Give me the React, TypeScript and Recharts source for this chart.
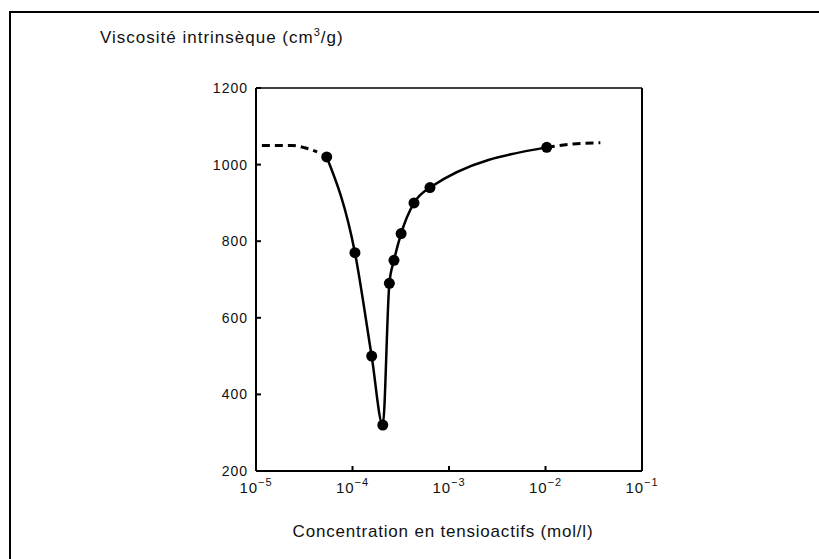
import { LineChart, Line, XAxis, YAxis } from "recharts";

// measured points (surfactant concentration in mol/l, intrinsic viscosity cm3/g)
const concentration = [5.4e-5, 1.06e-4, 1.58e-4, 2.06e-4, 2.41e-4, 2.69e-4, 3.19e-4, 4.34e-4, 6.35e-4, 1.03e-2];
const viscosity = [1020, 770, 500, 320, 690, 750, 820, 900, 940, 1045];

// dashed plateaus on each side
const leftTailConc = [1.15e-5, 2.4e-5, 3.2e-5, 4.3e-5];
const leftTailVisc = [1050, 1050, 1044, 1033];
const rightTailConc = [1.03e-2, 1.93e-2, 3.7e-2];
const rightTailVisc = [1045, 1054, 1057];

const xTicks = [1e-5, 1e-4, 1e-3, 1e-2, 1e-1];
const yTicks = [200, 400, 600, 800, 1000, 1200];

const FONT = "'Liberation Sans', Arial, sans-serif";

const measured = concentration.map((c, i) => ({ c, v: viscosity[i] }));
const leftTail = leftTailConc.map((c, i) => ({ c, v: leftTailVisc[i] }));
const rightTail = rightTailConc.map((c, i) => ({ c, v: rightTailVisc[i] }));

function PowerTick({ x, y, payload }: any) {
  const exp = Math.round(Math.log10(payload.value));
  return (
    <text x={x} y={y + 14} textAnchor="middle" fontSize={15} fill="#111" fontFamily={FONT} letterSpacing={1}>
      <tspan>10</tspan>
      <tspan dy={-7} fontSize={11}>{"\u2212" + Math.abs(exp)}</tspan>
    </text>
  );
}

export default function App() {
  return (
    <div style={{ position: "absolute", left: 0, top: 0, width: 819, height: 559, background: "#fff", overflow: "hidden" }}>
      <div
        style={{
          position: "absolute",
          left: 9,
          top: 11,
          width: 830,
          height: 560,
          borderTop: "2px solid #000",
          borderLeft: "2px solid #000",
        }}
      />
      <div
        style={{
          position: "absolute",
          left: 100,
          top: 29,
          fontFamily: FONT,
          fontSize: 17,
          lineHeight: "17px",
          letterSpacing: 1,
          color: "#111",
          whiteSpace: "nowrap",
        }}
      >
        Viscosité intrinsèque (cm<span style={{ fontSize: 11, verticalAlign: "7px", lineHeight: 0 }}>3</span>/g)
      </div>
      <div
        style={{
          position: "absolute",
          left: 243,
          top: 523,
          width: 400,
          textAlign: "center",
          fontFamily: FONT,
          fontSize: 17,
          lineHeight: "17px",
          letterSpacing: 0.8,
          color: "#111",
          whiteSpace: "nowrap",
        }}
      >
        Concentration en tensioactifs (mol/l)
      </div>
      <LineChart width={819} height={559} margin={{ top: 87, right: 176, bottom: 58, left: 196 }}>
        <XAxis
          dataKey="c"
          type="number"
          scale="log"
          domain={[1e-5, 1e-1]}
          ticks={xTicks}
          allowDataOverflow
          height={30}
          stroke="#000"
          strokeWidth={2}
          tickSize={-5}
          tickMargin={13}
          tick={<PowerTick />}
        />
        <XAxis
          xAxisId="top"
          orientation="top"
          type="number"
          scale="log"
          domain={[1e-5, 1e-1]}
          ticks={xTicks}
          allowDataOverflow
          height={1}
          stroke="#000"
          strokeWidth={1.5}
          tickSize={-5}
          tick={false}
        />
        <YAxis
          dataKey="v"
          type="number"
          domain={[200, 1200]}
          ticks={yTicks}
          width={60}
          stroke="#000"
          strokeWidth={2}
          tickSize={-5}
          tickMargin={13}
          tick={{ fontSize: 14, fill: "#111", fontFamily: FONT, letterSpacing: 1 }}
        />
        <YAxis
          yAxisId="r"
          orientation="right"
          type="number"
          domain={[200, 1200]}
          ticks={yTicks}
          width={1}
          stroke="#000"
          strokeWidth={2}
          tickSize={-5}
          tick={false}
        />
        <Line
          data={leftTail}
          dataKey="v"
          type="monotone"
          stroke="#000"
          strokeWidth={3}
          strokeDasharray="8 5"
          dot={false}
          isAnimationActive={false}
        />
        <Line
          data={rightTail}
          dataKey="v"
          type="monotone"
          stroke="#000"
          strokeWidth={3}
          strokeDasharray="8 5"
          dot={false}
          isAnimationActive={false}
        />
        <Line
          data={measured}
          dataKey="v"
          type="monotone"
          stroke="#000"
          strokeWidth={2.5}
          dot={{ r: 5.5, fill: "#000", stroke: "#000", strokeWidth: 0 }}
          isAnimationActive={false}
        />
      </LineChart>
    </div>
  );
}
